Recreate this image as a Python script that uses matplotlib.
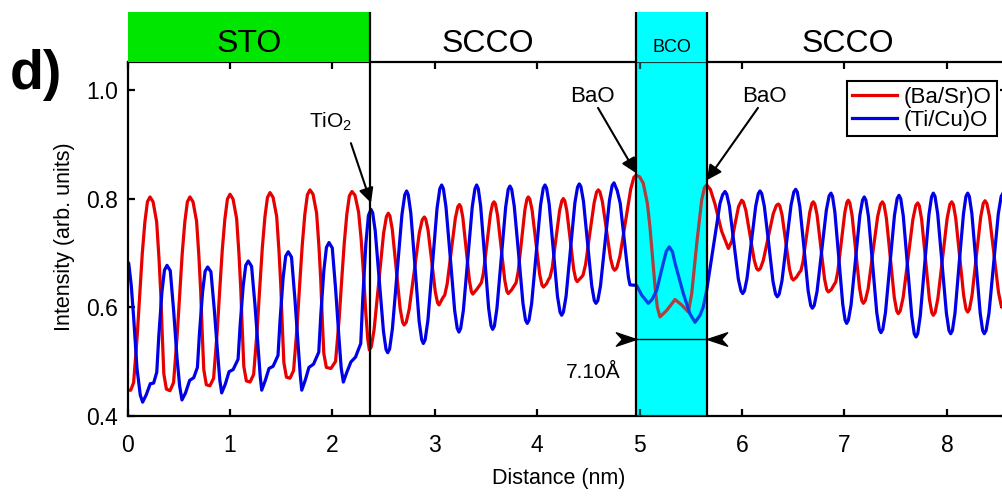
import numpy as np
import matplotlib.pyplot as plt
from matplotlib.path import Path
from matplotlib.lines import Line2D

plt.rcParams['font.family'] = ['Liberation Sans', 'DejaVu Sans']
plt.rcParams['mathtext.default'] = 'regular'

# (Ba/Sr)O line profile
red_x = [0.00, 0.03,
         0.058, 0.093, 0.118, 0.143, 0.168, 0.193, 0.218, 0.248, 0.283, 0.306, 0.323, 0.338, 0.353, 0.378, 0.413,
         0.448, 0.483, 0.508, 0.533, 0.558, 0.583, 0.608, 0.638, 0.673, 0.696, 0.713, 0.728, 0.743, 0.768, 0.803,
         0.839, 0.874, 0.899, 0.924, 0.949, 0.974, 0.999, 1.029, 1.064, 1.087, 1.104, 1.119, 1.134, 1.159, 1.195,
         1.23, 1.265, 1.29, 1.315, 1.34, 1.365, 1.39, 1.42, 1.455, 1.478, 1.495, 1.51, 1.525, 1.55, 1.585,
         1.62, 1.655, 1.68, 1.705, 1.73, 1.755, 1.78, 1.81, 1.845, 1.868, 1.885, 1.90, 1.915, 1.94, 1.985,
         2.03, 2.065, 2.09, 2.115, 2.14, 2.165, 2.19, 2.22, 2.255, 2.28, 2.305, 2.325, 2.345, 2.36,
         2.379, 2.406, 2.453, 2.499, 2.527, 2.545,
         2.561, 2.584, 2.623, 2.661, 2.685, 2.70,
         2.72, 2.749, 2.799, 2.848, 2.877, 2.897,
         2.911, 2.933, 2.969, 3.004, 3.026, 3.04, 3.08,
         3.096, 3.12, 3.16, 3.20, 3.224, 3.24,
         3.253, 3.273, 3.305, 3.338, 3.357, 3.37, 3.41, 3.44,
         3.454, 3.474, 3.509, 3.543, 3.563, 3.577,
         3.591, 3.612, 3.647, 3.682, 3.703, 3.717, 3.75, 3.78,
         3.793, 3.813, 3.846, 3.879, 3.899, 3.912,
         3.927, 3.949, 3.986, 4.023, 4.045, 4.06, 4.09, 4.11,
         4.124, 4.146, 4.182, 4.218, 4.240, 4.254,
         4.268, 4.288, 4.322, 4.356, 4.376, 4.39, 4.43,
         4.447, 4.472, 4.513, 4.555, 4.579, 4.596,
         4.612, 4.636, 4.676, 4.715, 4.739, 4.755,
         4.776, 4.807, 4.86, 4.912, 4.943, 4.964,
         5.00, 5.035, 5.075, 5.10, 5.15, 5.172, 5.198,
         5.264, 5.345, 5.41, 5.475, 5.508, 5.557, 5.605, 5.632, 5.654,
         5.69, 5.735, 5.80, 5.866, 5.90, 5.93, 5.965, 5.996,
         6.012, 6.037, 6.077, 6.118, 6.142, 6.158,
         6.178, 6.207, 6.256, 6.304, 6.334, 6.353,
         6.368, 6.39, 6.427, 6.463, 6.485, 6.50, 6.53, 6.56,
         6.574, 6.594, 6.628, 6.661, 6.682, 6.695,
         6.710, 6.732, 6.769, 6.805, 6.827, 6.842, 6.87, 6.90,
         6.914, 6.934, 6.969, 7.003, 7.023, 7.037,
         7.052, 7.074, 7.111, 7.147, 7.169, 7.184,
         7.203, 7.231, 7.277, 7.324, 7.351, 7.37,
         7.386, 7.409, 7.448, 7.486, 7.51, 7.525,
         7.544, 7.573, 7.62, 7.668, 7.696, 7.715,
         7.730, 7.753, 7.791, 7.829, 7.852, 7.867,
         7.885, 7.912, 7.957, 8.002, 8.029, 8.047,
         8.063, 8.086, 8.125, 8.164, 8.187, 8.203,
         8.22, 8.245, 8.288, 8.33, 8.355, 8.372,
         8.39, 8.416, 8.46, 8.504, 8.53, 8.548, 8.60]
red_y = [0.447, 0.447,
         0.461, 0.547, 0.625, 0.700, 0.757, 0.794, 0.803, 0.794, 0.757, 0.689, 0.625, 0.547, 0.477, 0.449, 0.446,
         0.461, 0.547, 0.625, 0.700, 0.757, 0.794, 0.803, 0.794, 0.758, 0.692, 0.629, 0.552, 0.485, 0.457, 0.455,
         0.469, 0.554, 0.632, 0.706, 0.762, 0.799, 0.808, 0.799, 0.763, 0.697, 0.635, 0.559, 0.491, 0.464, 0.462,
         0.476, 0.560, 0.637, 0.710, 0.766, 0.802, 0.811, 0.802, 0.767, 0.702, 0.640, 0.565, 0.498, 0.471, 0.469,
         0.483, 0.566, 0.643, 0.715, 0.771, 0.807, 0.816, 0.808, 0.773, 0.711, 0.652, 0.579, 0.515, 0.489, 0.487,
         0.500, 0.578, 0.650, 0.718, 0.771, 0.805, 0.813, 0.806, 0.775, 0.725, 0.655, 0.590, 0.540, 0.521,
         0.527, 0.558, 0.647, 0.736, 0.767, 0.773,
         0.768, 0.743, 0.670, 0.597, 0.572, 0.567,
         0.572, 0.596, 0.667, 0.737, 0.761, 0.766,
         0.762, 0.742, 0.685, 0.628, 0.608, 0.604, 0.618,
         0.622, 0.643, 0.704, 0.764, 0.785, 0.789,
         0.785, 0.765, 0.707, 0.648, 0.628, 0.624, 0.633, 0.641,
         0.645, 0.663, 0.718, 0.772, 0.790, 0.794,
         0.790, 0.769, 0.710, 0.650, 0.629, 0.625, 0.632, 0.641,
         0.645, 0.665, 0.722, 0.779, 0.799, 0.803,
         0.799, 0.779, 0.720, 0.661, 0.641, 0.637, 0.643, 0.651,
         0.655, 0.673, 0.726, 0.778, 0.796, 0.800,
         0.796, 0.778, 0.724, 0.669, 0.651, 0.647, 0.655,
         0.659, 0.679, 0.736, 0.792, 0.812, 0.816,
         0.812, 0.794, 0.742, 0.690, 0.672, 0.668,
         0.672, 0.694, 0.756, 0.817, 0.839, 0.843,
         0.840, 0.828, 0.791, 0.748, 0.637, 0.600, 0.582,
         0.594, 0.614, 0.604, 0.591, 0.625, 0.717, 0.797, 0.820, 0.825,
         0.817, 0.790, 0.740, 0.708, 0.722, 0.752, 0.785, 0.797,
         0.794, 0.778, 0.733, 0.687, 0.671, 0.668,
         0.671, 0.686, 0.729, 0.772, 0.787, 0.790,
         0.787, 0.770, 0.720, 0.670, 0.653, 0.650, 0.655, 0.664,
         0.667, 0.683, 0.729, 0.775, 0.791, 0.794,
         0.790, 0.770, 0.711, 0.652, 0.632, 0.628, 0.632, 0.642,
         0.646, 0.665, 0.720, 0.774, 0.793, 0.797,
         0.792, 0.769, 0.702, 0.635, 0.612, 0.607,
         0.612, 0.634, 0.701, 0.767, 0.789, 0.794,
         0.789, 0.764, 0.691, 0.618, 0.593, 0.588,
         0.593, 0.618, 0.690, 0.762, 0.787, 0.792,
         0.787, 0.762, 0.689, 0.615, 0.590, 0.585,
         0.590, 0.616, 0.690, 0.763, 0.789, 0.794,
         0.789, 0.764, 0.693, 0.621, 0.596, 0.591,
         0.596, 0.621, 0.694, 0.766, 0.791, 0.796,
         0.791, 0.767, 0.697, 0.627, 0.603, 0.598, 0.605]

# (Ti/Cu)O line profile
blue_x = [0.00, 0.01, 0.035, 0.059, 0.091, 0.123, 0.146, 0.18, 0.221, 0.253,
          0.284, 0.304, 0.334, 0.359, 0.384, 0.416, 0.449, 0.481, 0.508, 0.530, 0.565, 0.605, 0.645,
          0.681, 0.701, 0.731, 0.756, 0.781, 0.813, 0.846, 0.878, 0.900, 0.918, 0.953, 0.99, 1.03,
          1.078, 1.098, 1.128, 1.153, 1.178, 1.21, 1.243, 1.275, 1.295, 1.309, 1.344, 1.38, 1.42,
          1.468, 1.488, 1.518, 1.543, 1.568, 1.60, 1.633, 1.665, 1.686, 1.70, 1.735, 1.77, 1.815,
          1.866, 1.886, 1.916, 1.941, 1.966, 1.998, 2.031, 2.063, 2.085, 2.106, 2.14, 2.18, 2.225,
          2.276, 2.296, 2.326, 2.351, 2.376,
          2.392, 2.417, 2.458, 2.498, 2.523, 2.539,
          2.558, 2.585, 2.632, 2.678, 2.706, 2.724,
          2.740, 2.765, 2.806, 2.846, 2.871, 2.887,
          2.905, 2.932, 2.977, 3.021, 3.048, 3.066,
          3.083, 3.108, 3.151, 3.193, 3.218, 3.235,
          3.252, 3.278, 3.322, 3.365, 3.391, 3.408,
          3.424, 3.447, 3.486, 3.525, 3.548, 3.564,
          3.581, 3.606, 3.649, 3.691, 3.716, 3.733,
          3.75, 3.775, 3.818, 3.86, 3.885, 3.902,
          3.919, 3.945, 3.989, 4.032, 4.058, 4.075,
          4.091, 4.116, 4.157, 4.197, 4.222, 4.238,
          4.255, 4.281, 4.324, 4.367, 4.393, 4.41,
          4.426, 4.451, 4.492, 4.532, 4.557, 4.573,
          4.591, 4.617, 4.661, 4.705, 4.731, 4.749,
          4.78, 4.81, 4.857, 4.89, 4.905, 4.97, 5.02, 5.084,
          5.12, 5.166, 5.23, 5.26, 5.289, 5.32, 5.345, 5.426, 5.49, 5.54,
          5.589, 5.62, 5.654, 5.719, 5.784, 5.81, 5.833,
          5.85, 5.876, 5.92, 5.963, 5.989, 6.006,
          6.023, 6.048, 6.091, 6.133, 6.158, 6.175,
          6.192, 6.217, 6.26, 6.302, 6.327, 6.344,
          6.362, 6.389, 6.434, 6.478, 6.505, 6.523,
          6.539, 6.564, 6.605, 6.645, 6.67, 6.686,
          6.704, 6.732, 6.777, 6.823, 6.85, 6.868,
          6.883, 6.906, 6.945, 6.983, 7.006, 7.021,
          7.038, 7.064, 7.107, 7.15, 7.176, 7.193,
          7.209, 7.234, 7.275, 7.315, 7.34, 7.356,
          7.374, 7.40, 7.444, 7.488, 7.514, 7.532,
          7.549, 7.574, 7.615, 7.657, 7.681, 7.698,
          7.715, 7.74, 7.783, 7.825, 7.85, 7.867,
          7.884, 7.91, 7.952, 7.995, 8.02, 8.037,
          8.054, 8.079, 8.12, 8.162, 8.186, 8.203,
          8.219, 8.244, 8.284, 8.325, 8.349, 8.365,
          8.383, 8.411, 8.457, 8.502, 8.53, 8.548, 8.60]
blue_y = [0.683, 0.681, 0.640, 0.579, 0.487, 0.438, 0.425, 0.438, 0.459, 0.460,
          0.480, 0.547, 0.627, 0.668, 0.677, 0.667, 0.593, 0.508, 0.454, 0.429, 0.442, 0.465, 0.470,
          0.489, 0.552, 0.627, 0.666, 0.674, 0.665, 0.595, 0.516, 0.465, 0.442, 0.458, 0.481, 0.485,
          0.504, 0.566, 0.639, 0.677, 0.685, 0.675, 0.604, 0.523, 0.471, 0.447, 0.465, 0.487, 0.491,
          0.511, 0.576, 0.654, 0.694, 0.702, 0.692, 0.615, 0.529, 0.473, 0.447, 0.466, 0.489, 0.495,
          0.517, 0.586, 0.668, 0.710, 0.719, 0.709, 0.632, 0.544, 0.488, 0.462, 0.480, 0.499, 0.508,
          0.533, 0.617, 0.717, 0.769, 0.780,
          0.774, 0.741, 0.648, 0.555, 0.522, 0.516,
          0.523, 0.560, 0.665, 0.770, 0.807, 0.814,
          0.807, 0.773, 0.674, 0.574, 0.540, 0.533,
          0.540, 0.576, 0.679, 0.782, 0.818, 0.825,
          0.818, 0.785, 0.690, 0.594, 0.561, 0.554,
          0.561, 0.594, 0.690, 0.785, 0.818, 0.825,
          0.818, 0.786, 0.692, 0.598, 0.566, 0.559,
          0.565, 0.598, 0.691, 0.784, 0.817, 0.823,
          0.817, 0.786, 0.697, 0.607, 0.576, 0.570,
          0.576, 0.607, 0.698, 0.788, 0.819, 0.825,
          0.819, 0.790, 0.705, 0.620, 0.591, 0.585,
          0.591, 0.620, 0.706, 0.792, 0.821, 0.827,
          0.822, 0.795, 0.717, 0.639, 0.612, 0.607,
          0.612, 0.639, 0.718, 0.797, 0.824, 0.829,
          0.815, 0.791, 0.711, 0.655, 0.641, 0.640, 0.622, 0.607,
          0.614, 0.631, 0.681, 0.703, 0.711, 0.702, 0.681, 0.625, 0.588, 0.572,
          0.585, 0.600, 0.631, 0.711, 0.791, 0.807, 0.813,
          0.808, 0.786, 0.719, 0.652, 0.630, 0.625,
          0.630, 0.653, 0.720, 0.786, 0.809, 0.814,
          0.809, 0.786, 0.717, 0.647, 0.624, 0.619,
          0.624, 0.648, 0.718, 0.788, 0.812, 0.817,
          0.812, 0.785, 0.708, 0.630, 0.603, 0.598,
          0.603, 0.629, 0.704, 0.779, 0.805, 0.810,
          0.804, 0.775, 0.690, 0.605, 0.576, 0.570,
          0.576, 0.604, 0.687, 0.769, 0.797, 0.803,
          0.797, 0.767, 0.678, 0.590, 0.559, 0.553,
          0.559, 0.590, 0.680, 0.769, 0.800, 0.806,
          0.800, 0.768, 0.676, 0.583, 0.551, 0.545,
          0.551, 0.584, 0.678, 0.771, 0.803, 0.810,
          0.804, 0.772, 0.681, 0.589, 0.557, 0.551,
          0.557, 0.589, 0.681, 0.772, 0.804, 0.810,
          0.804, 0.772, 0.681, 0.589, 0.557, 0.551,
          0.557, 0.589, 0.681, 0.772, 0.804, 0.810, 0.795]

# layer boundaries (nm) and labels of the top band
sto_end = 2.37
bco_start, bco_end = 4.96, 5.66
band_labels = ['STO', 'SCCO', 'BCO', 'SCCO']
band_label_x = [1.185, 3.52, 5.31, 7.03]
band_label_size = [23, 23, 13, 23]

xmax = 8.587
fig = plt.figure(figsize=(10.03, 4.96), dpi=100)
ax = fig.add_axes([0.1273, 0.1619, 0.8767, 0.7125])
band = fig.add_axes([0.1273, 0.8744, 0.8767, 0.102])

# top band with layer names
band.set_xlim(0, xmax)
band.set_ylim(0, 1)
band.axis('off')
band.axvspan(0, sto_end, color='#00e600', lw=0)
band.axvspan(bco_start, bco_end, color='#00ffff', lw=0)
for xv in [sto_end, bco_start, bco_end]:
    band.axvline(xv, color='k', lw=1.6)
for lab, xl, fs in zip(band_labels, band_label_x, band_label_size):
    band.text(xl, 0.2, lab, ha='center', va='baseline', fontsize=fs)

# main plot
ax.axvspan(bco_start, bco_end, color='#00ffff', lw=0, zorder=0)
ax.plot(red_x, red_y, color='#e60000', lw=2.3, zorder=2, solid_joinstyle='round')
ax.plot(blue_x, blue_y, color='#0000e6', lw=2.3, zorder=2, solid_joinstyle='round')
ax.axvspan(bco_start, bco_end, color='#00ffff', alpha=0.25, lw=0, zorder=3)
for xv in [sto_end, bco_start, bco_end]:
    ax.axvline(xv, color='k', lw=1.6, zorder=4)

ax.set_xlim(0, xmax)
ax.set_ylim(0.4, 1.051)
ax.set_xticks(range(9))
ax.set_yticks([0.4, 0.6, 0.8, 1.0])
ax.set_yticklabels(['0.4', '0.6', '0.8', '1.0'])
for s in ax.spines.values():
    s.set_linewidth(1.6)
ax.tick_params(direction='in', top=True, right=True, length=5, width=1.6, labelsize=16.5)
ax.tick_params(axis='x', pad=13)
ax.tick_params(axis='y', pad=7)

ax.set_xlabel('Distance (nm)', fontsize=15.5, va='top')
ax.xaxis.set_label_coords(0.4905, -0.148)
ax.set_ylabel('Intensity (arb. units)', fontsize=15.5)
ax.yaxis.set_label_coords(-0.060, 0.506)

# annotations
arrow_kw = dict(arrowstyle='-|>', color='k', lw=1.5, mutation_scale=22,
                shrinkA=0, shrinkB=0)
ax.annotate('', xy=(2.376, 0.792), xytext=(2.18, 0.902), arrowprops=arrow_kw, zorder=5)
ax.text(1.985, 0.930, 'TiO$_2$', ha='center', va='baseline', fontsize=15)
ax.annotate('', xy=(4.964, 0.847), xytext=(4.593, 0.967), arrowprops=arrow_kw, zorder=5)
ax.text(4.534, 0.978, 'BaO', ha='center', va='baseline', fontsize=16)
ax.annotate('', xy=(5.657, 0.834), xytext=(6.155, 0.967), arrowprops=arrow_kw, zorder=5)
ax.text(6.215, 0.978, 'BaO', ha='center', va='baseline', fontsize=16)

# 7.10 A width marker
ax.plot([bco_start, bco_end], [0.541, 0.541], color='k', lw=1.0, zorder=5)
head_r = Path([(0, 0), (-1.5, 0.5), (-1.05, 0), (-1.5, -0.5), (0, 0)],
              [Path.MOVETO, Path.LINETO, Path.LINETO, Path.LINETO, Path.CLOSEPOLY])
head_l = Path([(0, 0), (1.5, 0.5), (1.05, 0), (1.5, -0.5), (0, 0)],
              [Path.MOVETO, Path.LINETO, Path.LINETO, Path.LINETO, Path.CLOSEPOLY])
ax.plot([bco_start], [0.541], marker=head_r, markersize=29, color='k', lw=0, zorder=6)
ax.plot([bco_end], [0.541], marker=head_l, markersize=29, color='k', lw=0, zorder=6)
ax.text(4.547, 0.469, '7.10Å', ha='center', va='baseline', fontsize=15)

handles = [Line2D([], [], color='#e60000', lw=2.3), Line2D([], [], color='#0000e6', lw=2.3)]
leg = ax.legend(handles, ['(Ba/Sr)O', '(Ti/Cu)O'], loc='upper right',
                bbox_to_anchor=(997 / 1003, 1 - 81 / 496), bbox_transform=fig.transFigure,
                borderaxespad=0, fancybox=False, edgecolor='k', framealpha=1,
                fontsize=16, handlelength=2.0, handletextpad=0.3,
                labelspacing=0.1, borderpad=0.25)
leg.get_frame().set_linewidth(1.5)
leg.set_zorder(10)

fig.text(10 / 1003, 1 - 89 / 496, 'd)', fontsize=40, fontweight='bold', ha='left', va='baseline')

fig.savefig('out.png', dpi=100)
